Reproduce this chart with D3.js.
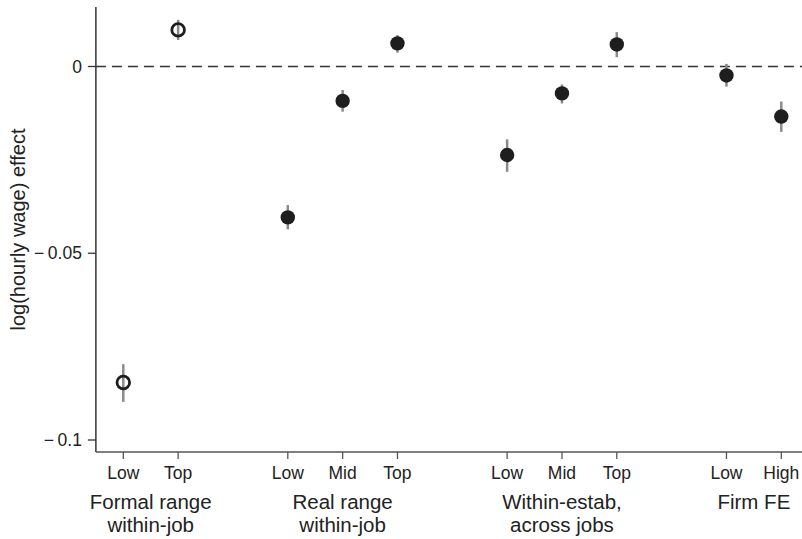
<!DOCTYPE html>
<meta charset="utf-8">
<script src="https://d3js.org/d3.v7.js"></script>
<style>
  body { margin: 0; background: #fff; }
  text { font-family: "Liberation Sans", Arial, sans-serif; fill: #222; }
</style>
<svg id="chart" width="802" height="539"></svg>
<script>

// categories along the x axis
const groups = [["Formal range", "within-job"], ["Real range", "within-job"], ["Within-estab,", "across jobs"], ["Firm FE"]];
const groupOf = [0, 0, 1, 1, 1, 2, 2, 2, 3, 3];
const positions = [1, 2, 4, 5, 6, 8, 9, 10, 12, 13];
const tickLabels = ["Low", "Top", "Low", "Mid", "Top", "Low", "Mid", "Top", "Low", "High"];

// point estimates and confidence bands
const estimates = [-0.0846, 0.0098, -0.0404, -0.0092, 0.0062, -0.0237, -0.0072, 0.0059, -0.0024, -0.0134];
const lower =     [-0.0898, 0.0071, -0.0436, -0.0121, 0.0037, -0.0282, -0.0099, 0.0025, -0.0054, -0.0175];
const upper =     [-0.0797, 0.0125, -0.0371, -0.0063, 0.0084, -0.0195, -0.0048, 0.0092, 0.0007, -0.0094];
const hollow =    [true, true, false, false, false, false, false, false, false, false];

const yTicks = [0, -0.05, -0.1];

const svg = d3.select("#chart");

const x = d3.scaleLinear().domain([1, 13]).range([123.3, 781.3]);
const y = d3.scaleLinear().domain([0, -0.1]).range([66.5, 440]);

const plotLeft = x(0.5), plotRight = 802, plotTop = 7, plotBottom = 452;

// y axis
svg.append("line")
    .attr("x1", plotLeft).attr("x2", plotLeft)
    .attr("y1", plotTop).attr("y2", plotBottom)
    .attr("stroke", "#333").attr("stroke-width", 1.5);

svg.selectAll(".ytick")
  .data(yTicks)
  .join("line")
    .attr("x1", plotLeft - 8).attr("x2", plotLeft)
    .attr("y1", d => y(d)).attr("y2", d => y(d))
    .attr("stroke", "#333").attr("stroke-width", 1.3);

svg.selectAll(".ylab")
  .data(yTicks)
  .join("text")
    .attr("x", plotLeft - 14)
    .attr("y", d => y(d))
    .attr("dy", "0.35em")
    .attr("text-anchor", "end")
    .style("font-size", "17.5px")
    .text(d => d === 0 ? "0" : d3.format("")(d).replace("\u2212", "\u2212\u2009"));

svg.append("text")
    .attr("transform", "translate(25,229.5) rotate(-90)")
    .attr("text-anchor", "middle")
    .style("font-size", "20px")
    .text("log(hourly wage) effect");

// x axis
svg.append("line")
    .attr("x1", plotLeft).attr("x2", plotRight)
    .attr("y1", plotBottom).attr("y2", plotBottom)
    .attr("stroke", "#555").attr("stroke-width", 1.5);

svg.selectAll(".xtick")
  .data(positions)
  .join("line")
    .attr("x1", d => x(d)).attr("x2", d => x(d))
    .attr("y1", plotBottom).attr("y2", plotBottom + 7)
    .attr("stroke", "#555").attr("stroke-width", 1.3);

svg.selectAll(".xlab")
  .data(positions)
  .join("text")
    .attr("x", d => x(d))
    .attr("y", 478.5)
    .attr("text-anchor", "middle")
    .style("font-size", "17.5px")
    .text((d, i) => tickLabels[i]);

// group labels centred under their ticks
groups.forEach((lines, g) => {
  const cx = d3.mean(positions.filter((p, i) => groupOf[i] === g).map(p => x(p)));
  lines.forEach((t, k) => {
    svg.append("text")
      .attr("x", cx)
      .attr("y", 508.5 + k * 23.5)
      .attr("text-anchor", "middle")
      .style("font-size", "20.5px")
      .text(t);
  });
});

// zero reference line
svg.append("line")
    .attr("x1", plotLeft).attr("x2", plotRight)
    .attr("y1", y(0)).attr("y2", y(0))
    .attr("stroke", "#333").attr("stroke-width", 1.5)
    .attr("stroke-dasharray", "10,6");

// confidence bands
svg.selectAll(".ci")
  .data(positions)
  .join("line")
    .attr("x1", d => x(d)).attr("x2", d => x(d))
    .attr("y1", (d, i) => y(lower[i]))
    .attr("y2", (d, i) => y(upper[i]))
    .attr("stroke", "#8a8a8a").attr("stroke-width", 2.5);

// estimates
svg.selectAll(".pt")
  .data(positions)
  .join("circle")
    .attr("cx", d => x(d))
    .attr("cy", (d, i) => y(estimates[i]))
    .attr("r", (d, i) => hollow[i] ? 6.3 : 7.2)
    .attr("fill", (d, i) => hollow[i] ? "none" : "#1e1e1e")
    .attr("stroke", (d, i) => hollow[i] ? "#1e1e1e" : "none")
    .attr("stroke-width", 2.8);

</script>
